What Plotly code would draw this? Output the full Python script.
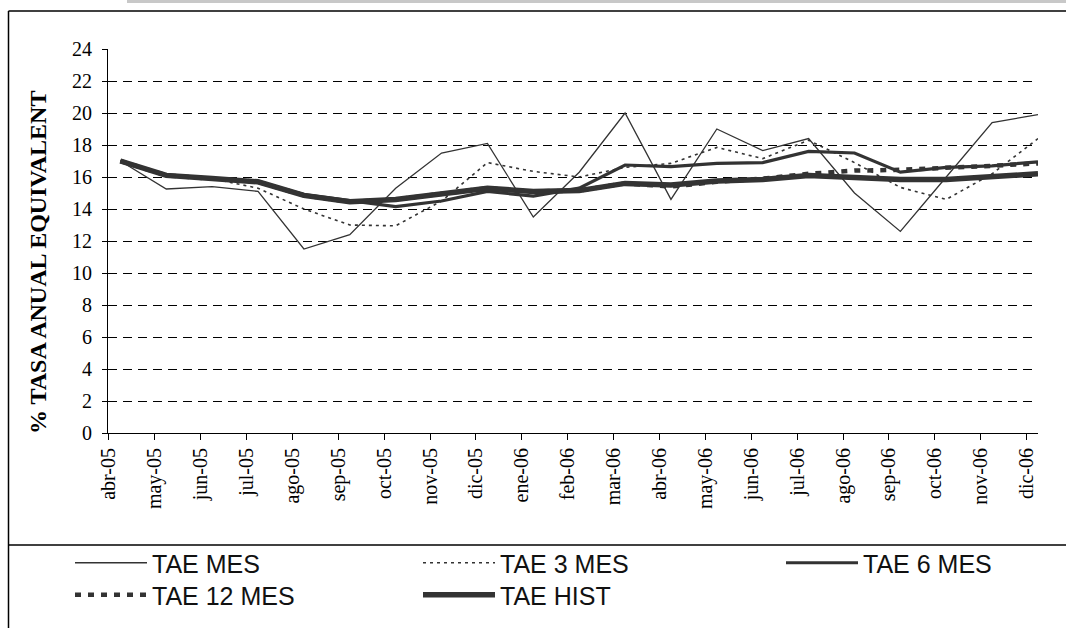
import plotly.graph_objects as go

months = ["abr-05", "may-05", "jun-05", "jul-05", "ago-05", "sep-05", "oct-05",
          "nov-05", "dic-05", "ene-06", "feb-06", "mar-06", "abr-06", "may-06",
          "jun-06", "jul-06", "ago-06", "sep-06", "oct-06", "nov-06", "dic-06"]

tae_mes = [17.0, 15.25, 15.4, 15.1, 11.5, 12.4, 15.3, 17.5, 18.1, 13.5, 16.3,
           20.0, 14.6, 19.0, 17.65, 18.4, 15.0, 12.6, 16.0, 19.4, 19.9]
tae_3mes = [17.0, 16.1, 15.9, 15.3, 14.0, 13.0, 12.95, 14.5, 16.9, 16.35, 16.0,
            16.6, 16.85, 17.85, 17.15, 18.3, 16.9, 15.35, 14.6, 16.2, 18.4]
tae_6mes = [17.0, 16.1, 15.9, 15.7, 14.9, 14.5, 14.15, 14.5, 15.1, 14.8, 15.3,
            16.75, 16.65, 16.85, 16.9, 17.6, 17.5, 16.3, 16.6, 16.7, 16.95]
tae_12mes = [17.0, 16.1, 15.9, 15.7, 14.85, 14.45, 14.6, 14.95, 15.3, 15.1, 15.15,
             15.6, 15.4, 15.7, 15.9, 16.2, 16.4, 16.45, 16.55, 16.7, 16.85]
tae_hist = [17.0, 16.1, 15.9, 15.7, 14.85, 14.45, 14.6, 14.95, 15.3, 15.1, 15.15,
            15.6, 15.5, 15.75, 15.85, 16.1, 16.0, 15.85, 15.85, 16.0, 16.2]

y_ticks = list(range(0, 25, 2))

x = list(range(len(months)))
LINE = "#333333"

# name, values, width, dash, legend id, legend left px, legend top px
series = [
    ("TAE MES", tae_mes, 1.3, "solid", "legend", 70, 540),
    ("TAE 3 MES", tae_3mes, 1.6, "3px,4px", "legend2", 418, 540),
    ("TAE 6 MES", tae_6mes, 3.2, "solid", "legend3", 781, 540),
    ("TAE 12 MES", tae_12mes, 4.5, "6px,7px", "legend4", 70, 572),
    ("TAE HIST", tae_hist, 5.5, "solid", "legend5", 418, 572),
]

W, H = 1066, 628
L, R, T, B = 108, 28, 49, 195
pw, ph = W - L - R, H - T - B


def px(xp):
    return (xp - L) / pw


def py(yp):
    return (H - B - yp) / ph


legfont = dict(family="Liberation Sans, Arial, sans-serif", size=25, color="#111")

fig = go.Figure()
legends = {}
for name, vals, w, dash, leg, lx, ly in series:
    fig.add_trace(go.Scatter(
        x=x, y=vals, name=name, mode="lines", legend=leg,
        line=dict(color=LINE, width=w, dash=dash),
    ))
    legends[leg] = dict(
        orientation="v", x=px(lx), y=py(ly), xanchor="left", yanchor="top",
        font=legfont, itemwidth=72, bgcolor="rgba(0,0,0,0)",
    )

tick_font = dict(family="Liberation Serif, Times New Roman, serif", size=20, color="#000")

fig.update_layout(
    width=W, height=H,
    margin=dict(l=L, r=R, t=T, b=B, pad=0, autoexpand=False),
    paper_bgcolor="white", plot_bgcolor="white",
    showlegend=True,
    **legends,
    xaxis=dict(
        range=[-0.27, len(months) - 1],
        tickmode="array", tickvals=[i - 0.25 for i in x], ticktext=months,
        tickangle=-90, ticks="outside", ticklen=6, tickcolor="#000", tickwidth=1,
        showline=True, linecolor="#000", linewidth=1,
        showgrid=False, zeroline=False, tickfont=tick_font,
    ),
    yaxis=dict(
        range=[0, 24], tickmode="array", tickvals=y_ticks,
        ticks="outside", ticklen=5, tickcolor="#000", tickwidth=1,
        ticklabelstandoff=6,
        showline=True, linecolor="#000", linewidth=1,
        showgrid=True, gridcolor="#000", gridwidth=1, griddash="9px,6px",
        zeroline=False, tickfont=tick_font,
    ),
    annotations=[dict(
        text="<b>% TASA ANUAL EQUIVALENT</b>", xref="paper", yref="paper",
        x=px(38), y=py(263), textangle=-90, showarrow=False,
        xanchor="center", yanchor="middle",
        font=dict(family="Liberation Serif, Times New Roman, serif", size=24, color="#000"),
    )],
    shapes=[
        dict(type="rect", xref="paper", yref="paper", x0=px(127), x1=px(1070),
             y0=py(-2), y1=py(3), fillcolor="#c8c8c8", line=dict(width=0)),
        dict(type="line", xref="paper", yref="paper", x0=px(8.5), x1=px(1070),
             y0=py(11), y1=py(11), line=dict(color="#000", width=1.5)),
        dict(type="line", xref="paper", yref="paper", x0=px(8.5), x1=px(8.5),
             y0=py(11), y1=py(632), line=dict(color="#000", width=1.5)),
        dict(type="line", xref="paper", yref="paper", x0=px(8.5), x1=px(1070),
             y0=py(545), y1=py(545), line=dict(color="#000", width=1.5)),
    ],
)

fig.write_html("out.html", config={"displayModeBar": False},
               post_script="document.body.style.margin='0';document.body.style.overflow='hidden';")
